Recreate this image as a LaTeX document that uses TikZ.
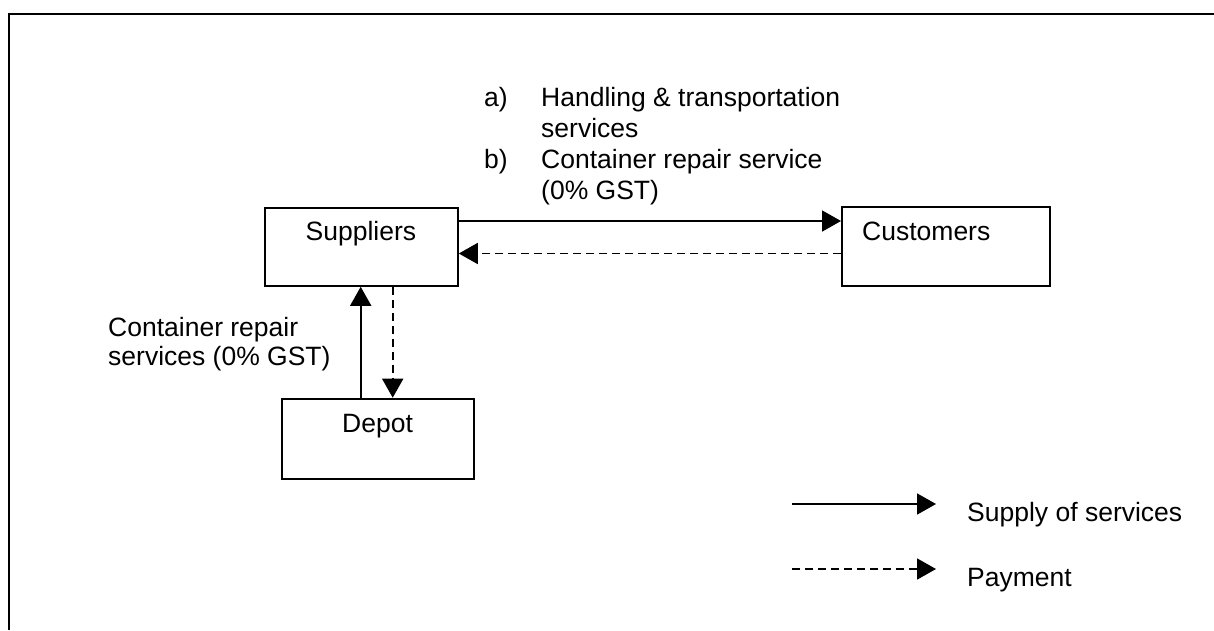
\documentclass[tikz,border=0pt]{standalone}
\usepackage{fontspec}
\setmainfont{Liberation Sans}
\usetikzlibrary{arrows.meta,calc}
\begin{document}
\begin{tikzpicture}[x=1pt,y=-1pt,
  box/.style={draw,line width=1.8pt,inner sep=0pt,anchor=north west},
  lbl/.style={anchor=base west,inner sep=0pt,font=\fontsize{26.5}{31}\selectfont},
  supply/.style={line width=1.8pt,-{Triangle[length=19pt,width=21pt]}},
  pay/.style={supply,dash pattern=on 8pt off 5pt}]
\useasboundingbox (0,0) rectangle (1214,630);
\draw[line width=2pt] (9,630) -- (9,14) -- (1214,14);
% boxes
\node[box,minimum width=193pt,minimum height=78pt] (sup) at (264,207) {};
\node[box,minimum width=208.3pt,minimum height=79pt] (cus) at (841,206) {};
\node[box,minimum width=191.7pt,minimum height=80.3pt] (dep) at (281,397.7) {};
\node[lbl] (supt) at (305.5,240) {Suppliers};
\node[lbl] (cust) at (862,240) {Customers};
\node[lbl] (dept) at (342,432.7) {Depot};
% labels
\node[lbl] (la) at (484,106) {a)};
\node[lbl] (l1) at (541,106) {Handling \& transportation};
\node[lbl] (l2) at (541,137) {services};
\node[lbl] (lb) at (484,168) {b)};
\node[lbl] (l3) at (541,168) {Container repair service};
\node[lbl] (l4) at (541,199) {(0\% GST)};
\node[lbl] (c1) at (108,336) {Container repair};
\node[lbl] (c2) at (108,365) {services (0\% GST)};
% connectors
\draw[supply] ($(sup.north east)+(0,14)$) -- ($(cus.north west)+(0,15)$);
\draw[pay] ($(cus.north west)+(0,47.5)$) -- ($(sup.north east)+(0,46.5)$);
\draw[supply] ($(dep.north west)+(79.7,0)$) -- ($(sup.south west)+(96.7,0)$);
\draw[pay] ($(sup.south west)+(128.7,0)$) -- ($(dep.north west)+(111.7,0)$);
% legend
\coordinate (s1) at (792,504);
\coordinate (s2) at (936,504);
\coordinate (p1) at (792,569);
\coordinate (p2) at (936,569);
\draw[supply] (s1) -- (s2);
\draw[pay] (p1) -- (p2);
\node[lbl] (ls) at (967,521.7) {Supply of services};
\node[lbl] (lp) at (967,586) {Payment};
\end{tikzpicture}
\end{document}
